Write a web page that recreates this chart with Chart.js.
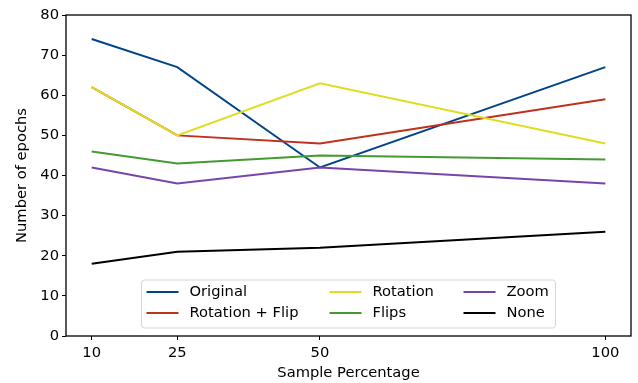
<!DOCTYPE html>
<html>
<head>
<meta charset="utf-8">
<script src="https://cdn.jsdelivr.net/npm/chart.js@4/dist/chart.umd.min.js"></script>
<style>
html,body{margin:0;padding:0;background:#fff;}
#wrap{width:638px;height:383px;position:relative;}
</style>
</head>
<body>
<div id="wrap"><canvas id="c" width="638" height="383"></canvas></div>
<script>
const samplePct = [10, 25, 50, 100];
const xTicks = [10, 25, 50, 100];
const yTicks = [0, 10, 20, 30, 40, 50, 60, 70, 80];
const seriesNames = ["Original", "Rotation + Flip", "Rotation", "Flips", "Zoom", "None"];
const original = [74, 67, 42, 67];
const rotationFlip = [62, 50, 48, 59];
const rotation = [62, 50, 63, 48];
const flips = [46, 43, 45, 44];
const zoom = [42, 38, 42, 38];
const none = [18, 21, 22, 26];
const colors = ["#004488", "#c0301e", "#dddd22", "#449933", "#7744aa", "#000000"];
const allSeries = [original, rotationFlip, rotation, flips, zoom, none];

const FONT = "'DejaVu Sans', sans-serif";
const FS = 14.7;

const datasets = allSeries.map((vals, i) => ({
  label: seriesNames[i],
  data: samplePct.map((x, j) => ({x: x, y: vals[j]})),
  borderColor: colors[i],
  backgroundColor: colors[i],
  borderWidth: 2,
  pointRadius: 0,
  tension: 0,
  fill: false,
  order: allSeries.length - i
}));

const framePlugin = {
  id: 'frame',
  afterDatasetsDraw(chart) {
    const {ctx, chartArea: a} = chart;
    ctx.save();
    ctx.strokeStyle = '#000';
    ctx.lineWidth = 1.3;
    ctx.strokeRect(a.left, a.top, a.right - a.left, a.bottom - a.top);
    ctx.restore();
  }
};

const legendPlugin = {
  id: 'mplLegend',
  afterDraw(chart) {
    const {ctx, chartArea: a} = chart;
    const ds = chart.data.datasets;
    const boxW = 414, boxH = 48;
    const cx = (a.left + a.right) / 2;
    const x0 = cx - boxW / 2;
    const y0 = a.bottom - 8 - boxH;
    ctx.save();
    const r = 3;
    ctx.beginPath();
    ctx.moveTo(x0 + r, y0);
    ctx.lineTo(x0 + boxW - r, y0);
    ctx.quadraticCurveTo(x0 + boxW, y0, x0 + boxW, y0 + r);
    ctx.lineTo(x0 + boxW, y0 + boxH - r);
    ctx.quadraticCurveTo(x0 + boxW, y0 + boxH, x0 + boxW - r, y0 + boxH);
    ctx.lineTo(x0 + r, y0 + boxH);
    ctx.quadraticCurveTo(x0, y0 + boxH, x0, y0 + boxH - r);
    ctx.lineTo(x0, y0 + r);
    ctx.quadraticCurveTo(x0, y0, x0 + r, y0);
    ctx.closePath();
    ctx.fillStyle = 'rgba(255,255,255,0.85)';
    ctx.fill();
    ctx.strokeStyle = '#d6d6d6';
    ctx.lineWidth = 1;
    ctx.stroke();
    const colX = [x0 + 5, x0 + 188, x0 + 322];
    const rowY = [y0 + 12, y0 + 33];
    ctx.font = FS + "px " + FONT;
    ctx.textBaseline = 'middle';
    ctx.textAlign = 'left';
    ds.forEach((d, i) => {
      const col = Math.floor(i / 2), row = i % 2;
      const lx = colX[col], ly = rowY[row];
      ctx.strokeStyle = d.borderColor;
      ctx.lineWidth = 2;
      ctx.beginPath();
      ctx.moveTo(lx, ly);
      ctx.lineTo(lx + 32, ly);
      ctx.stroke();
      ctx.fillStyle = '#000';
      ctx.fillText(d.label, lx + 43, ly + 0.5);
    });
    ctx.restore();
  }
};

new Chart(document.getElementById('c'), {
  type: 'line',
  data: {datasets: datasets},
  options: {
    responsive: false,
    animation: false,
    devicePixelRatio: 1,
    layout: {padding: {top: 15, right: 7, left: 0, bottom: 0}},
    plugins: {legend: {display: false}, tooltip: {enabled: false}},
    scales: {
      x: {
        type: 'linear',
        min: 5.5,
        max: 104.5,
        afterBuildTicks(scale) { scale.ticks = xTicks.map(v => ({value: v})); },
        afterFit(scale) { scale.height = 47; },
        grid: {display: true, drawOnChartArea: false, drawTicks: true, tickLength: 4, color: '#000', tickWidth: 1},
        border: {display: false},
        ticks: {color: '#000', font: {family: FONT, size: FS}, padding: 4, maxRotation: 0, autoSkip: false},
        title: {display: true, text: 'Sample Percentage', color: '#000', font: {family: FONT, size: FS}, padding: {top: 0, bottom: 1}}
      },
      y: {
        type: 'linear',
        min: 0,
        max: 80,
        afterBuildTicks(scale) { scale.ticks = yTicks.map(v => ({value: v})); },
        afterFit(scale) { scale.width = 66; },
        grid: {display: true, drawOnChartArea: false, drawTicks: true, tickLength: 4, color: '#000', tickWidth: 1},
        border: {display: false},
        ticks: {color: '#000', font: {family: FONT, size: FS}, padding: 3},
        title: {display: true, text: 'Number of epochs', color: '#000', font: {family: FONT, size: FS}, padding: {top: 13, bottom: 0}}
      }
    }
  },
  plugins: [framePlugin, legendPlugin]
});
</script>
</body>
</html>
